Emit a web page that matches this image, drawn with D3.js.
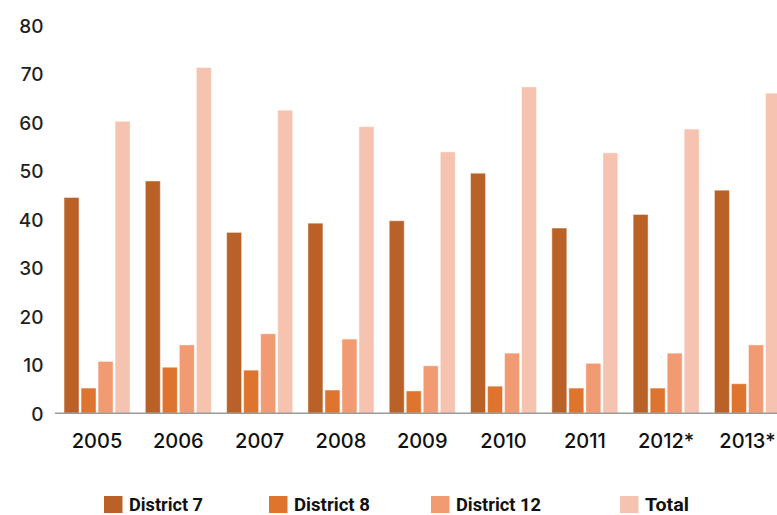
<!DOCTYPE html>
<html>
<head>
<meta charset="utf-8">
<script src="https://cdn.jsdelivr.net/npm/d3@7"></script>
<style>
  html, body { margin: 0; padding: 0; background: #fff; overflow: hidden; }
  svg { display: block; }
</style>
</head>
<body>
<svg id="chart" width="777" height="515"></svg>
<script>
// Years shown on the horizontal axis
const years = ["2005", "2006", "2007", "2008", "2009", "2010", "2011", "2012*", "2013*"];
// Series names, in drawing order within each year
const seriesNames = ["District 7", "District 8", "District 12", "Total"];
// Values per series, one per year
const district7  = [44.5, 47.9, 37.3, 39.2, 39.7, 49.5, 38.2, 41.0, 46.0];
const district8  = [5.2, 9.5, 8.9, 4.8, 4.6, 5.6, 5.2, 5.2, 6.1];
const district12 = [10.7, 14.1, 16.4, 15.3, 9.8, 12.4, 10.3, 12.4, 14.1];
const total      = [60.2, 71.3, 62.5, 59.1, 53.9, 67.3, 53.7, 58.6, 66.0];
// Y axis ticks
const yTicks = [0, 10, 20, 30, 40, 50, 60, 70, 80];

const seriesValues = [district7, district8, district12, total];
const colors = ["#ba6128", "#df742e", "#f29a72", "#f6c3b0"];

const svg = d3.select("#chart");

const y = d3.scaleLinear().domain([0, 80]).range([413.3, 25.3]);

const x0 = d3.scaleBand()
  .domain(years)
  .range([56.4, 56.4 + 81.3 * years.length])
  .paddingInner(0.188)
  .paddingOuter(0.094);

const x1 = d3.scaleBand()
  .domain(seriesNames)
  .range([0, x0.bandwidth()])
  .paddingInner(0.12);

const color = d3.scaleOrdinal().domain(seriesNames).range(colors);

// Bars
const groups = svg.append("g")
  .selectAll("g")
  .data(years)
  .join("g")
  .attr("transform", d => `translate(${x0(d)},0)`);

groups.selectAll("rect")
  .data((yr, i) => seriesNames.map((s, k) => ({ s, v: seriesValues[k][i] })))
  .join("rect")
  .attr("x", d => x1(d.s))
  .attr("width", x1.bandwidth())
  .attr("y", d => y(d.v))
  .attr("height", d => y(0) - y(d.v))
  .attr("fill", d => color(d.s))
  .attr("stroke", "#ffffff")
  .attr("stroke-opacity", 0.45)
  .attr("stroke-width", 1);

// Baseline
svg.append("line")
  .attr("x1", 55).attr("x2", 777)
  .attr("y1", y(0)).attr("y2", y(0))
  .attr("stroke", "#9a9a9a")
  .attr("stroke-width", 1.6);

// Y axis labels
const yAxis = d3.axisLeft(y).tickValues(yTicks).tickSize(0).tickPadding(0);
const yg = svg.append("g").attr("transform", "translate(43.5,0)").call(yAxis);
yg.select(".domain").remove();
yg.selectAll("text")
  .attr("font-family", "Inter, 'Open Sans', sans-serif")
  .attr("font-size", 19)
  .attr("font-weight", 500)
  .attr("fill", "#231f20")
  .attr("dy", "0.36em");

// X axis labels
const xAxis = d3.axisBottom(x0).tickSize(0).tickPadding(0);
const xg = svg.append("g").attr("transform", `translate(0,${y(0)})`).call(xAxis);
xg.select(".domain").remove();
xg.selectAll("text")
  .attr("font-family", "Inter, 'Open Sans', sans-serif")
  .attr("font-size", 20)
  .attr("font-weight", 500)
  .attr("fill", "#111")
  .attr("dy", null)
  .attr("y", 35);

// Legend
const legendX = [104, 269, 431, 620];
const legendTextW = [74, 76, 85, 44];
const legend = svg.append("g")
  .selectAll("g")
  .data(seriesNames)
  .join("g")
  .attr("transform", (d, i) => `translate(${legendX[i]},496)`);

legend.append("rect")
  .attr("width", 18.5)
  .attr("height", 17)
  .attr("fill", d => color(d));

legend.append("text")
  .attr("x", 25)
  .attr("y", 14.5)
  .attr("font-family", "Roboto, 'Liberation Sans', sans-serif")
  .attr("font-size", 19)
  .attr("font-weight", 700)
  .attr("fill", "#111")
  .attr("textLength", (d, i) => legendTextW[i])
  .attr("lengthAdjust", "spacingAndGlyphs")
  .text(d => d);
</script>
</body>
</html>
